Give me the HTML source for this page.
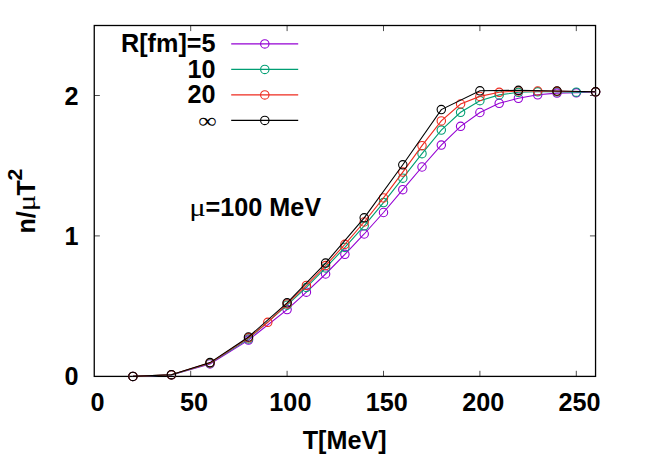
<!DOCTYPE html>
<html><head><meta charset="utf-8"><style>
html,body{margin:0;padding:0;background:#fff;overflow:hidden;}
svg{display:block;}
text{font-family:"Liberation Sans",sans-serif;font-weight:bold;font-size:25.2px;fill:#000;}
</style></head><body>
<svg width="654" height="458" viewBox="0 0 654 458">
<rect x="0" y="0" width="654" height="458" fill="#fff"/>
<rect x="94.25" y="25.5" width="501.29999999999995" height="350.9" fill="none" stroke="#000" stroke-width="1.3"/>
<line x1="190.7" y1="376.4" x2="190.7" y2="370.79999999999995" stroke="#000" stroke-width="0.7"/>
<line x1="190.7" y1="25.5" x2="190.7" y2="31.1" stroke="#000" stroke-width="0.7"/>
<line x1="287.1" y1="376.4" x2="287.1" y2="370.79999999999995" stroke="#000" stroke-width="0.7"/>
<line x1="287.1" y1="25.5" x2="287.1" y2="31.1" stroke="#000" stroke-width="0.7"/>
<line x1="383.5" y1="376.4" x2="383.5" y2="370.79999999999995" stroke="#000" stroke-width="0.7"/>
<line x1="383.5" y1="25.5" x2="383.5" y2="31.1" stroke="#000" stroke-width="0.7"/>
<line x1="479.9" y1="376.4" x2="479.9" y2="370.79999999999995" stroke="#000" stroke-width="0.7"/>
<line x1="479.9" y1="25.5" x2="479.9" y2="31.1" stroke="#000" stroke-width="0.7"/>
<line x1="576.3" y1="376.4" x2="576.3" y2="370.79999999999995" stroke="#000" stroke-width="0.7"/>
<line x1="576.3" y1="25.5" x2="576.3" y2="31.1" stroke="#000" stroke-width="0.7"/>
<line x1="94.25" y1="235.9" x2="99.85" y2="235.9" stroke="#000" stroke-width="0.7"/>
<line x1="595.55" y1="235.9" x2="589.9499999999999" y2="235.9" stroke="#000" stroke-width="0.7"/>
<line x1="94.25" y1="95.5" x2="99.85" y2="95.5" stroke="#000" stroke-width="0.7"/>
<line x1="595.55" y1="95.5" x2="589.9499999999999" y2="95.5" stroke="#000" stroke-width="0.7"/>
<line x1="231.2" y1="43.9" x2="298.2" y2="43.9" stroke="#9400d3" stroke-width="1.1"/>
<circle cx="264.8" cy="43.9" r="4.2" fill="none" stroke="#9400d3" stroke-width="1.1"/>
<line x1="231.2" y1="69.4" x2="298.2" y2="69.4" stroke="#009e73" stroke-width="1.1"/>
<circle cx="264.8" cy="69.4" r="4.2" fill="none" stroke="#009e73" stroke-width="1.1"/>
<line x1="231.2" y1="94.9" x2="298.2" y2="94.9" stroke="#ee2a1e" stroke-width="1.1"/>
<circle cx="264.8" cy="94.9" r="4.2" fill="none" stroke="#ee2a1e" stroke-width="1.1"/>
<line x1="231.2" y1="120.4" x2="298.2" y2="120.4" stroke="#000000" stroke-width="1.1"/>
<circle cx="264.8" cy="120.4" r="4.2" fill="none" stroke="#000000" stroke-width="1.1"/>
<polyline points="132.9,376.4 171.4,375.0 210.0,364.0 248.5,340.1 287.1,309.6 306.4,292.2 325.6,274.0 344.9,254.3 364.2,234.0 383.5,212.5 402.8,189.7 422.0,167.0 441.3,145.1 460.6,126.3 479.9,112.5 499.2,103.3 518.4,98.3 537.7,94.8 557.0,93.1 576.3,92.8 595.6,91.9" fill="none" stroke="#9400d3" stroke-width="1.1"/>
<circle cx="132.9" cy="376.4" r="4.2" fill="none" stroke="#9400d3" stroke-width="1.1"/>
<circle cx="171.4" cy="375.0" r="4.2" fill="none" stroke="#9400d3" stroke-width="1.1"/>
<circle cx="210.0" cy="364.0" r="4.2" fill="none" stroke="#9400d3" stroke-width="1.1"/>
<circle cx="248.5" cy="340.1" r="4.2" fill="none" stroke="#9400d3" stroke-width="1.1"/>
<circle cx="287.1" cy="309.6" r="4.2" fill="none" stroke="#9400d3" stroke-width="1.1"/>
<circle cx="306.4" cy="292.2" r="4.2" fill="none" stroke="#9400d3" stroke-width="1.1"/>
<circle cx="325.6" cy="274.0" r="4.2" fill="none" stroke="#9400d3" stroke-width="1.1"/>
<circle cx="344.9" cy="254.3" r="4.2" fill="none" stroke="#9400d3" stroke-width="1.1"/>
<circle cx="364.2" cy="234.0" r="4.2" fill="none" stroke="#9400d3" stroke-width="1.1"/>
<circle cx="383.5" cy="212.5" r="4.2" fill="none" stroke="#9400d3" stroke-width="1.1"/>
<circle cx="402.8" cy="189.7" r="4.2" fill="none" stroke="#9400d3" stroke-width="1.1"/>
<circle cx="422.0" cy="167.0" r="4.2" fill="none" stroke="#9400d3" stroke-width="1.1"/>
<circle cx="441.3" cy="145.1" r="4.2" fill="none" stroke="#9400d3" stroke-width="1.1"/>
<circle cx="460.6" cy="126.3" r="4.2" fill="none" stroke="#9400d3" stroke-width="1.1"/>
<circle cx="479.9" cy="112.5" r="4.2" fill="none" stroke="#9400d3" stroke-width="1.1"/>
<circle cx="499.2" cy="103.3" r="4.2" fill="none" stroke="#9400d3" stroke-width="1.1"/>
<circle cx="518.4" cy="98.3" r="4.2" fill="none" stroke="#9400d3" stroke-width="1.1"/>
<circle cx="537.7" cy="94.8" r="4.2" fill="none" stroke="#9400d3" stroke-width="1.1"/>
<circle cx="557.0" cy="93.1" r="4.2" fill="none" stroke="#9400d3" stroke-width="1.1"/>
<circle cx="576.3" cy="92.8" r="4.2" fill="none" stroke="#9400d3" stroke-width="1.1"/>
<circle cx="595.6" cy="91.9" r="4.2" fill="none" stroke="#9400d3" stroke-width="1.1"/>
<polyline points="132.9,376.4 171.4,374.9 210.0,363.3 248.5,338.9 287.1,305.2 306.4,287.4 325.6,267.9 344.9,247.4 364.2,225.8 383.5,202.6 402.8,178.2 422.0,153.7 441.3,130.1 460.6,112.3 479.9,100.7 499.2,94.9 518.4,92.3 537.7,91.8 557.0,91.8 576.3,92.2 595.6,91.8" fill="none" stroke="#009e73" stroke-width="1.1"/>
<circle cx="132.9" cy="376.4" r="4.2" fill="none" stroke="#009e73" stroke-width="1.1"/>
<circle cx="171.4" cy="374.9" r="4.2" fill="none" stroke="#009e73" stroke-width="1.1"/>
<circle cx="210.0" cy="363.3" r="4.2" fill="none" stroke="#009e73" stroke-width="1.1"/>
<circle cx="248.5" cy="338.9" r="4.2" fill="none" stroke="#009e73" stroke-width="1.1"/>
<circle cx="287.1" cy="305.2" r="4.2" fill="none" stroke="#009e73" stroke-width="1.1"/>
<circle cx="306.4" cy="287.4" r="4.2" fill="none" stroke="#009e73" stroke-width="1.1"/>
<circle cx="325.6" cy="267.9" r="4.2" fill="none" stroke="#009e73" stroke-width="1.1"/>
<circle cx="344.9" cy="247.4" r="4.2" fill="none" stroke="#009e73" stroke-width="1.1"/>
<circle cx="364.2" cy="225.8" r="4.2" fill="none" stroke="#009e73" stroke-width="1.1"/>
<circle cx="383.5" cy="202.6" r="4.2" fill="none" stroke="#009e73" stroke-width="1.1"/>
<circle cx="402.8" cy="178.2" r="4.2" fill="none" stroke="#009e73" stroke-width="1.1"/>
<circle cx="422.0" cy="153.7" r="4.2" fill="none" stroke="#009e73" stroke-width="1.1"/>
<circle cx="441.3" cy="130.1" r="4.2" fill="none" stroke="#009e73" stroke-width="1.1"/>
<circle cx="460.6" cy="112.3" r="4.2" fill="none" stroke="#009e73" stroke-width="1.1"/>
<circle cx="479.9" cy="100.7" r="4.2" fill="none" stroke="#009e73" stroke-width="1.1"/>
<circle cx="499.2" cy="94.9" r="4.2" fill="none" stroke="#009e73" stroke-width="1.1"/>
<circle cx="518.4" cy="92.3" r="4.2" fill="none" stroke="#009e73" stroke-width="1.1"/>
<circle cx="537.7" cy="91.8" r="4.2" fill="none" stroke="#009e73" stroke-width="1.1"/>
<circle cx="557.0" cy="91.8" r="4.2" fill="none" stroke="#009e73" stroke-width="1.1"/>
<circle cx="576.3" cy="92.2" r="4.2" fill="none" stroke="#009e73" stroke-width="1.1"/>
<circle cx="595.6" cy="91.8" r="4.2" fill="none" stroke="#009e73" stroke-width="1.1"/>
<polyline points="132.9,376.4 171.4,374.8 210.0,362.9 248.5,337.8 267.8,322.3 287.1,303.9 306.4,285.4 325.6,265.6 344.9,244.3 364.2,222.0 383.5,197.9 402.8,172.1 422.0,145.7 441.3,120.9 460.6,104.0 479.9,96.4 499.2,92.3 518.4,91.0 537.7,91.0 557.0,91.3 595.6,91.8" fill="none" stroke="#ee2a1e" stroke-width="1.1"/>
<circle cx="132.9" cy="376.4" r="4.2" fill="none" stroke="#ee2a1e" stroke-width="1.1"/>
<circle cx="171.4" cy="374.8" r="4.2" fill="none" stroke="#ee2a1e" stroke-width="1.1"/>
<circle cx="210.0" cy="362.9" r="4.2" fill="none" stroke="#ee2a1e" stroke-width="1.1"/>
<circle cx="248.5" cy="337.8" r="4.2" fill="none" stroke="#ee2a1e" stroke-width="1.1"/>
<circle cx="267.8" cy="322.3" r="4.2" fill="none" stroke="#ee2a1e" stroke-width="1.1"/>
<circle cx="287.1" cy="303.9" r="4.2" fill="none" stroke="#ee2a1e" stroke-width="1.1"/>
<circle cx="306.4" cy="285.4" r="4.2" fill="none" stroke="#ee2a1e" stroke-width="1.1"/>
<circle cx="325.6" cy="265.6" r="4.2" fill="none" stroke="#ee2a1e" stroke-width="1.1"/>
<circle cx="344.9" cy="244.3" r="4.2" fill="none" stroke="#ee2a1e" stroke-width="1.1"/>
<circle cx="364.2" cy="222.0" r="4.2" fill="none" stroke="#ee2a1e" stroke-width="1.1"/>
<circle cx="383.5" cy="197.9" r="4.2" fill="none" stroke="#ee2a1e" stroke-width="1.1"/>
<circle cx="402.8" cy="172.1" r="4.2" fill="none" stroke="#ee2a1e" stroke-width="1.1"/>
<circle cx="422.0" cy="145.7" r="4.2" fill="none" stroke="#ee2a1e" stroke-width="1.1"/>
<circle cx="441.3" cy="120.9" r="4.2" fill="none" stroke="#ee2a1e" stroke-width="1.1"/>
<circle cx="460.6" cy="104.0" r="4.2" fill="none" stroke="#ee2a1e" stroke-width="1.1"/>
<circle cx="479.9" cy="96.4" r="4.2" fill="none" stroke="#ee2a1e" stroke-width="1.1"/>
<circle cx="499.2" cy="92.3" r="4.2" fill="none" stroke="#ee2a1e" stroke-width="1.1"/>
<circle cx="518.4" cy="91.0" r="4.2" fill="none" stroke="#ee2a1e" stroke-width="1.1"/>
<circle cx="537.7" cy="91.0" r="4.2" fill="none" stroke="#ee2a1e" stroke-width="1.1"/>
<circle cx="557.0" cy="91.3" r="4.2" fill="none" stroke="#ee2a1e" stroke-width="1.1"/>
<circle cx="595.6" cy="91.8" r="4.2" fill="none" stroke="#ee2a1e" stroke-width="1.1"/>
<polyline points="132.9,376.4 171.4,374.7 210.0,362.6 248.5,337.0 287.1,302.8 325.6,263.1 364.2,217.8 402.8,164.8 441.3,109.6 479.9,90.8 518.4,90.3 557.0,91.0 595.6,91.8" fill="none" stroke="#000000" stroke-width="1.1"/>
<circle cx="132.9" cy="376.4" r="4.2" fill="none" stroke="#000000" stroke-width="1.1"/>
<circle cx="171.4" cy="374.7" r="4.2" fill="none" stroke="#000000" stroke-width="1.1"/>
<circle cx="210.0" cy="362.6" r="4.2" fill="none" stroke="#000000" stroke-width="1.1"/>
<circle cx="248.5" cy="337.0" r="4.2" fill="none" stroke="#000000" stroke-width="1.1"/>
<circle cx="287.1" cy="302.8" r="4.2" fill="none" stroke="#000000" stroke-width="1.1"/>
<circle cx="325.6" cy="263.1" r="4.2" fill="none" stroke="#000000" stroke-width="1.1"/>
<circle cx="364.2" cy="217.8" r="4.2" fill="none" stroke="#000000" stroke-width="1.1"/>
<circle cx="402.8" cy="164.8" r="4.2" fill="none" stroke="#000000" stroke-width="1.1"/>
<circle cx="441.3" cy="109.6" r="4.2" fill="none" stroke="#000000" stroke-width="1.1"/>
<circle cx="479.9" cy="90.8" r="4.2" fill="none" stroke="#000000" stroke-width="1.1"/>
<circle cx="518.4" cy="90.3" r="4.2" fill="none" stroke="#000000" stroke-width="1.1"/>
<circle cx="557.0" cy="91.0" r="4.2" fill="none" stroke="#000000" stroke-width="1.1"/>
<circle cx="595.6" cy="91.8" r="4.2" fill="none" stroke="#000000" stroke-width="1.1"/>
<text x="215.5" y="52.2" text-anchor="end" >R[fm]=5</text>
<text x="215.5" y="77.7" text-anchor="end" >10</text>
<text x="215.5" y="103.2" text-anchor="end" >20</text>
<text transform="translate(216.8,128.3) scale(1.03,0.86)" x="0" y="0" text-anchor="end" style="font-family:'Liberation Serif',serif;font-weight:normal">∞</text>
<text x="78.5" y="385.45000000000005" text-anchor="end" >0</text>
<text x="78.5" y="245.00000000000003" text-anchor="end" >1</text>
<text x="78.5" y="104.55000000000004" text-anchor="end" >2</text>
<text x="97.6" y="411" text-anchor="middle" >0</text>
<text x="193.995" y="411" text-anchor="middle" >50</text>
<text x="290.39" y="411" text-anchor="middle" >100</text>
<text x="386.785" y="411" text-anchor="middle" >150</text>
<text x="483.18" y="411" text-anchor="middle" >200</text>
<text x="579.5749999999999" y="411" text-anchor="middle" >250</text>
<text x="344.7" y="448.7" text-anchor="middle" >T[MeV]</text>
<text x="205.50" y="216.2" text-anchor="start">=100 MeV</text>
<text transform="translate(205.80,216.2) scale(1.22,1)" x="0" y="0" text-anchor="end" style="font-family:'Liberation Serif',serif;font-weight:normal">μ</text>
<g transform="translate(34.5,233.6) rotate(-90)"><text x="0" y="0" text-anchor="start">n/</text><text transform="translate(22.4,0) scale(1.22,1)" x="0" y="0" text-anchor="start" style="font-family:'Liberation Serif',serif;font-weight:normal">μ</text><text x="38.10" y="0" text-anchor="start">T</text><text x="53.10" y="-12.3" text-anchor="start" style="font-size:21.1px">2</text></g>
</svg>
</body></html>
